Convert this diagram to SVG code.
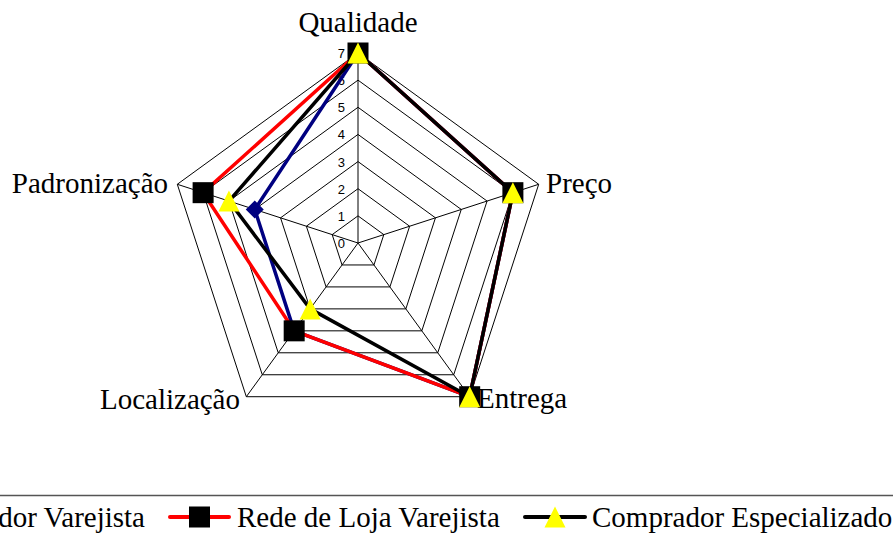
<svg xmlns="http://www.w3.org/2000/svg" width="893" height="538" viewBox="0 0 893 538">
<style>
.grid{fill:none;stroke:#000;stroke-width:1}
.lbl{font-family:"Liberation Serif","Times New Roman",serif;font-size:29px;fill:#000}
.tick{font-family:"Liberation Sans",Arial,sans-serif;font-size:13px;fill:#000;text-anchor:end}
.ser{fill:none;stroke-width:3.5;stroke-linejoin:round}
</style>
<defs>
<rect id="sq" x="-10.5" y="-10.5" width="21" height="21" fill="#000"/>
<polygon id="tri" points="0,-10.5 10.5,10.5 -10.5,10.5" fill="#FFFF00"/>
<polygon id="dia" points="0,-9 9,0 0,9 -9,0" fill="#000080"/>
</defs>
<rect width="893" height="538" fill="#fff"/>
<g id="grid">
<polygon class="grid" points="358,215.857 383.814,234.612 373.954,264.959 342.046,264.959 332.186,234.612"/>
<polygon class="grid" points="358,188.714 409.629,226.225 389.909,286.918 326.091,286.918 306.371,226.225"/>
<polygon class="grid" points="358,161.571 435.443,217.837 405.863,308.877 310.137,308.877 280.557,217.837"/>
<polygon class="grid" points="358,134.429 461.257,209.449 421.817,330.836 294.183,330.836 254.743,209.449"/>
<polygon class="grid" points="358,107.286 487.071,201.061 437.771,352.795 278.229,352.795 228.929,201.061"/>
<polygon class="grid" points="358,80.143 512.886,192.674 453.726,374.754 262.274,374.754 203.114,192.674"/>
<polygon class="grid" points="358,53 538.7,184.286 469.68,396.714 246.32,396.714 177.3,184.286"/>
<path class="grid" d="M358,243L358,53M358,243L538.7,184.286M358,243L469.68,396.714M358,243L246.32,396.714M358,243L177.3,184.286"/>
</g>
<g id="ticks">
<text class="tick" x="345" y="248">0</text>
<text class="tick" x="345" y="220.9">1</text>
<text class="tick" x="345" y="193.7">2</text>
<text class="tick" x="345" y="166.6">3</text>
<text class="tick" x="345" y="139.4">4</text>
<text class="tick" x="345" y="112.3">5</text>
<text class="tick" x="345" y="85.1">6</text>
<text class="tick" x="345" y="58">7</text>
</g>
<g id="axis-labels">
<text id="qualidade" class="lbl" x="358" y="32" text-anchor="middle">Qualidade</text>
<text id="preco" class="lbl" x="546" y="193">Preço</text>
<text id="entrega" class="lbl" x="477" y="408">Entrega</text>
<text id="localizacao" class="lbl" x="240" y="409" text-anchor="end">Localização</text>
<text id="padronizacao" class="lbl" x="168" y="193" text-anchor="end">Padronização</text>
</g>
<g id="connectors">
<g id="serie-comprador-varejista">
<polygon class="ser" stroke="#000080" points="358,53 512.886,192.674 469.68,396.714 294.183,330.836 254.743,209.449"/>
<use href="#dia" x="358" y="53"/><use href="#dia" x="512.886" y="192.674"/><use href="#dia" x="469.68" y="396.714"/><use href="#dia" x="294.183" y="330.836"/><use href="#dia" x="254.743" y="209.449"/>
</g>
<g id="serie-rede-loja">
<polygon class="ser" stroke="#FF0000" points="358,53 512.886,192.674 469.68,396.714 294.183,330.836 203.114,192.674"/>
<use href="#sq" x="358" y="53"/><use href="#sq" x="512.886" y="192.674"/><use href="#sq" x="469.68" y="396.714"/><use href="#sq" x="294.183" y="330.836"/><use href="#sq" x="203.114" y="192.674"/>
</g>
<g id="serie-comprador-especializado">
<polygon class="ser" stroke="#000" points="358,53 512.886,192.674 469.68,396.714 310.137,308.877 228.929,201.061"/>
<use href="#tri" x="358" y="53"/><use href="#tri" x="512.886" y="192.674"/><use href="#tri" x="469.68" y="396.714"/><use href="#tri" x="310.137" y="308.877"/><use href="#tri" x="228.929" y="201.061"/>
</g>
</g>
<g id="legend">
<rect x="-10" y="495.5" width="913" height="60" fill="none" stroke="#555" stroke-width="1.5"/>
<text class="lbl" x="145" y="527" text-anchor="end">Comprador Varejista</text>
<line x1="170" y1="517" x2="229" y2="517" stroke="#FF0000" stroke-width="4" stroke-linecap="round"/>
<use href="#sq" x="199.5" y="517"/>
<text class="lbl" x="237" y="527">Rede de Loja Varejista</text>
<line x1="525" y1="517" x2="585" y2="517" stroke="#000" stroke-width="4" stroke-linecap="round"/>
<use href="#tri" x="555" y="517"/>
<text class="lbl" x="592" y="527">Comprador Especializado</text>
</g>
</svg>
